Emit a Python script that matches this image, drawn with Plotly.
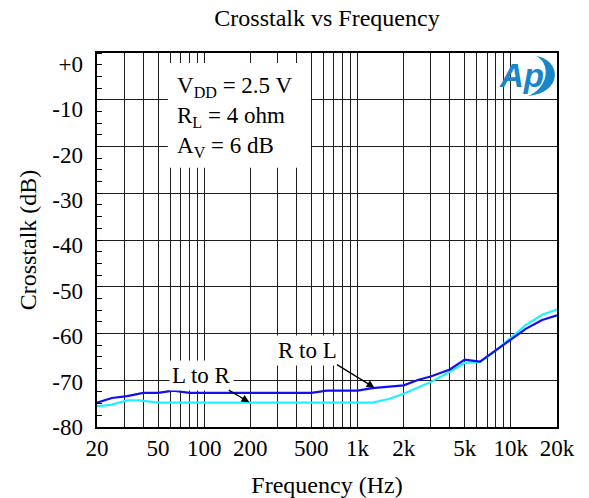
import numpy as np
import plotly.graph_objects as go

# Crosstalk measurements (dB) versus frequency (Hz)
freq_r_to_l = [20, 25, 31.5, 40, 50, 63, 80, 100, 200, 500, 630, 800, 1000, 1250,
               2000, 2500, 3000, 4000, 5000, 6300, 8000, 10000, 12500, 16000, 20000]
xtalk_r_to_l = [-74.8, -73.8, -73.4, -72.7, -72.7, -72.2, -72.7, -72.7, -72.7, -72.7,
                -72.2, -72.2, -72.2, -71.7, -71.1, -69.9, -69.2, -67.7, -65.6, -66.0,
                -63.6, -61.3, -59.0, -57.1, -56.1]

freq_l_to_r = [20, 25, 31.5, 38, 50, 63, 100, 200, 500, 1000, 1250, 1600, 2000,
               3000, 4000, 5000, 6300, 8000, 10000, 12500, 16000, 20000]
xtalk_l_to_r = [-75.6, -75.2, -74.3, -74.3, -74.8, -74.8, -74.8, -74.8, -74.8, -74.8,
                -74.8, -74.0, -72.9, -70.4, -68.2, -66.3, -66.1, -63.6, -60.9, -58.2,
                -56.0, -54.9]

# Axis ticks
x_grid = [m * 10 ** e for e in range(1, 5) for m in range(1, 10)]
x_grid = [v for v in x_grid if 20 <= v <= 20000]
x_labels = {20: "20", 50: "50", 100: "100", 200: "200", 500: "500", 1000: "1k",
            2000: "2k", 5000: "5k", 10000: "10k", 20000: "20k"}
x_ticktext = [x_labels.get(v, "") for v in x_grid]
y_grid = [0, -10, -20, -30, -40, -50, -60, -70, -80]
y_ticktext = ["+0", "-10", "-20", "-30", "-40", "-50", "-60", "-70", "-80"]
# label positions on the scale: the labels sit on a slightly compressed ladder
y_label_pos = [-2.3, -12.0, -21.7, -31.4, -41.1, -50.9, -60.6, -70.3, -80.0]

FONT = "Liberation Serif, Times New Roman, serif"
GRID = "#1e1e1e"

fig = go.Figure()
fig.add_trace(go.Scatter(x=freq_l_to_r, y=xtalk_l_to_r, mode="lines",
                         line=dict(color="#22f0ff", width=2.2), name="L to R"))
fig.add_trace(go.Scatter(x=freq_r_to_l, y=xtalk_r_to_l, mode="lines",
                         line=dict(color="#1010f0", width=2.2), name="R to L"))
# empty trace that carries the labelled scale
fig.add_trace(go.Scatter(x=[], y=[], yaxis="y2", showlegend=False, hoverinfo="skip"))

fig.update_layout(
    width=589, height=498,
    margin=dict(l=97, r=32, t=53, b=71, autoexpand=False),
    paper_bgcolor="white", plot_bgcolor="white",
    showlegend=False,
    font=dict(family=FONT, size=23, color="black"),
    title=dict(text="Crosstalk vs Frequency", x=0.5, xref="paper", xanchor="center",
               y=1 - 18 / 498, yanchor="middle", font=dict(size=24)),
)

fig.update_xaxes(
    type="log", range=[np.log10(20), np.log10(20000)],
    tickvals=x_grid, ticktext=x_ticktext, ticks="", automargin=False,
    showgrid=True, gridcolor=GRID, gridwidth=1,
    showline=True, linecolor="black", linewidth=1.5, mirror=True,
    zeroline=False, tickfont=dict(size=23),
    title=dict(text="Frequency (Hz)", font=dict(size=24), standoff=16),
)
fig.update_layout(
    yaxis=dict(
        range=[-80, 0], tickvals=y_grid, showticklabels=False, ticks="",
        automargin=False,
        showgrid=True, gridcolor=GRID, gridwidth=1,
        showline=True, linecolor="black", linewidth=1.5, mirror=True,
        zeroline=False,
        minor=dict(dtick=2.5, ticks="inside", ticklen=5, tickcolor="black",
                   tickwidth=1, showgrid=False),
        title=dict(text="Crosstalk (dB)", font=dict(size=24), standoff=52),
    ),
    yaxis2=dict(
        overlaying="y", side="left", range=[-80, 0], automargin=False,
        tickvals=y_label_pos, ticktext=y_ticktext, ticks="",
        showgrid=False, zeroline=False, showline=False,
        tickfont=dict(size=23), ticklabelstandoff=13,
    ),
)

# White panels for the conditions box and the logo
fig.add_shape(type="rect", xref="paper", yref="paper", x0=0.154, x1=0.465,
              y0=0.693, y1=0.973, fillcolor="white", line=dict(width=0), layer="above")
fig.add_shape(type="rect", xref="paper", yref="paper", x0=0.902, x1=0.997,
              y0=0.893, y1=0.997, fillcolor="white", line=dict(width=0), layer="above")

# Test conditions
for txt, yp in [("V<sub>DD</sub> = 2.5 V", 0.910),
                ("R<sub>L</sub> = 4 ohm", 0.830),
                ("A<sub>V</sub> = 6 dB", 0.749)]:
    fig.add_annotation(text=txt, xref="paper", yref="paper", x=0.1696, y=yp,
                       xanchor="left", yanchor="middle", showarrow=False,
                       font=dict(size=23))

# Curve labels with arrows
fig.add_annotation(text="L to R", x=np.log10(96), y=-68.9, showarrow=False,
                   bgcolor="white", font=dict(size=23), borderpad=2)
fig.add_annotation(text="", x=np.log10(197), y=-74.7, ax=-22, ay=-13,
                   showarrow=True, arrowhead=2, arrowsize=1.2, arrowwidth=1.3,
                   arrowcolor="black")
fig.add_annotation(text="R to L", x=np.log10(475), y=-63.6, showarrow=False,
                   bgcolor="white", font=dict(size=23), borderpad=2)
fig.add_annotation(text="", x=np.log10(1290), y=-71.6, ax=-39, ay=-24,
                   showarrow=True, arrowhead=2, arrowsize=1.2, arrowwidth=1.3,
                   arrowcolor="black")

# Logo
def px(x, y):
    return (x - 97) / 460, 1 - (y - 53) / 374

LOGO = "#1a86c8"
lx, ly = px(521, 75)
fig.add_annotation(text="<b><i>Ap</i></b>", xref="paper", yref="paper",
                   x=lx, y=ly, xanchor="center", yanchor="middle", showarrow=False,
                   font=dict(family="Liberation Sans, Arial, sans-serif", size=33,
                             color=LOGO))
pts = [px(536, 56), px(562, 60), px(563, 93), px(528, 96),
       px(549, 88), px(551, 63), px(536, 56)]
path = ("M {:.4f},{:.4f} C {:.4f},{:.4f} {:.4f},{:.4f} {:.4f},{:.4f} "
        "C {:.4f},{:.4f} {:.4f},{:.4f} {:.4f},{:.4f} Z").format(*[c for p in pts for c in p])
fig.add_shape(type="path", xref="paper", yref="paper", path=path,
              fillcolor=LOGO, line=dict(width=0), layer="above")

fig.write_html("out.html")
